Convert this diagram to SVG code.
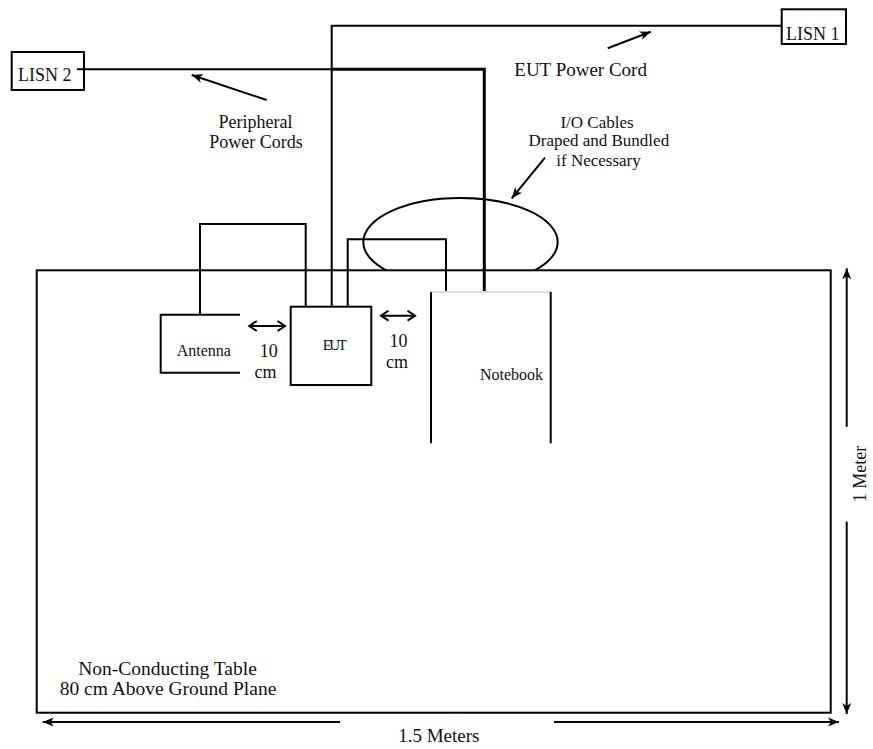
<svg xmlns="http://www.w3.org/2000/svg" width="873" height="749" viewBox="0 0 873 749">
<style>
.ln{fill:none;stroke:#000;stroke-width:2}
.bx{fill:#fff;stroke:#000;stroke-width:2}
text{font-family:"Liberation Serif","Times New Roman",serif;fill:#111}
.t19{font-size:19px}
.t18{font-size:18px}
.t17{font-size:17px}
.t16{font-size:16px}
.c{text-anchor:middle}
</style>
<defs>
<marker id="fa" markerUnits="userSpaceOnUse" markerWidth="12" markerHeight="10" refX="11" refY="5" orient="auto-start-reverse" viewBox="0 0 12 10">
<path d="M0,0.5 L11,5 L0,9.5 L3,5 Z" fill="#000"/>
</marker>
<marker id="oa" markerUnits="userSpaceOnUse" markerWidth="12" markerHeight="12" refX="9" refY="6" orient="auto-start-reverse" viewBox="0 0 12 12">
<path d="M1.5,1 L9,6 L1.5,11" fill="none" stroke="#000" stroke-width="2"/>
</marker>
<clipPath id="abovetable"><rect x="0" y="0" width="873" height="270"/></clipPath>
</defs>

<g id="table">
<rect x="36.7" y="270.3" width="794" height="442.4" class="ln"/>
<text class="c" style="font-size:19.5px" x="167.5" y="675">Non-Conducting Table</text>
<text class="c" style="font-size:19.5px" x="168" y="695">80 cm Above Ground Plane</text>
</g>

<g id="bundle">
<ellipse cx="460.5" cy="242" rx="97.2" ry="44" class="ln" clip-path="url(#abovetable)"/>
</g>

<g id="connectors">
<path d="M77,69.3 H331" class="ln"/>
<path d="M331,69.3 H484.3 V292" fill="none" stroke="#000" stroke-width="3"/>
<path d="M331.7,306.7 V25.7 H781.7" class="ln"/>
<path d="M200,314.7 V224 H305.7 V306.7" class="ln"/>
<path d="M347.7,306.7 V239.3 H446 V292" class="ln"/>
</g>

<g id="lisn2">
<rect x="11.7" y="52" width="72.3" height="38" class="ln"/>
<text class="t18" x="18" y="81">LISN 2</text>
</g>

<g id="lisn1">
<rect x="781.7" y="9.3" width="64.3" height="34.7" class="ln"/>
<text class="t18" x="786" y="40">LISN 1</text>
</g>

<g id="antenna">
<path d="M240,314.7 H160.7 V372.7 H240" class="ln"/>
<text class="t16" x="176.7" y="356">Antenna</text>
</g>

<g id="eut">
<rect x="290.7" y="306.7" width="80.6" height="78.3" class="bx"/>
<text x="322.7" y="350" style="font-size:15px;letter-spacing:-2.5px">EUT</text>
</g>

<g id="notebook">
<path d="M431,292 H550.7" fill="none" stroke="#ddd" stroke-width="2"/>
<path d="M431,292 V443.3 M550.7,292 V443.3" class="ln"/>
<text class="t16" x="480" y="380">Notebook</text>
</g>

<g id="annotations">
<path d="M266.7,100 L191.7,75" class="ln" marker-end="url(#fa)"/>
<text class="t18 c" x="255.5" y="128.3">Peripheral</text>
<text class="t18 c" x="256" y="147.7">Power Cords</text>

<path d="M607.7,48.3 L650.7,31.7" class="ln" marker-end="url(#fa)"/>
<text class="t19" x="514.3" y="76">EUT Power Cord</text>

<path d="M545,157.7 L511.7,198.3" class="ln" marker-end="url(#fa)"/>
<text class="t17 c" x="597" y="127.7">I/O Cables</text>
<text class="t17 c" x="598.8" y="146">Draped and Bundled</text>
<text class="t17 c" x="598.5" y="165.7">if Necessary</text>

<path d="M249.3,326 H285" class="ln" marker-start="url(#oa)" marker-end="url(#oa)"/>
<text class="t18 c" x="268.7" y="356.7">10</text>
<text class="t18 c" x="265.5" y="378.3">cm</text>

<path d="M381,315.7 H415" class="ln" marker-start="url(#oa)" marker-end="url(#oa)"/>
<text class="t18 c" x="398.5" y="346.7">10</text>
<text class="t18 c" x="397" y="368">cm</text>

<path d="M42.7,722 H340" class="ln" marker-start="url(#fa)"/>
<path d="M554,722 H839" class="ln" marker-end="url(#fa)"/>
<text class="t19 c" x="438.8" y="741.7">1.5 Meters</text>

<path d="M846.7,426.7 V268.3" class="ln" marker-end="url(#fa)"/>
<path d="M846.7,521.7 V714" class="ln" marker-end="url(#fa)"/>
<text class="t18 c" transform="translate(866,474) rotate(-90)">1 Meter</text>
</g>
</svg>
